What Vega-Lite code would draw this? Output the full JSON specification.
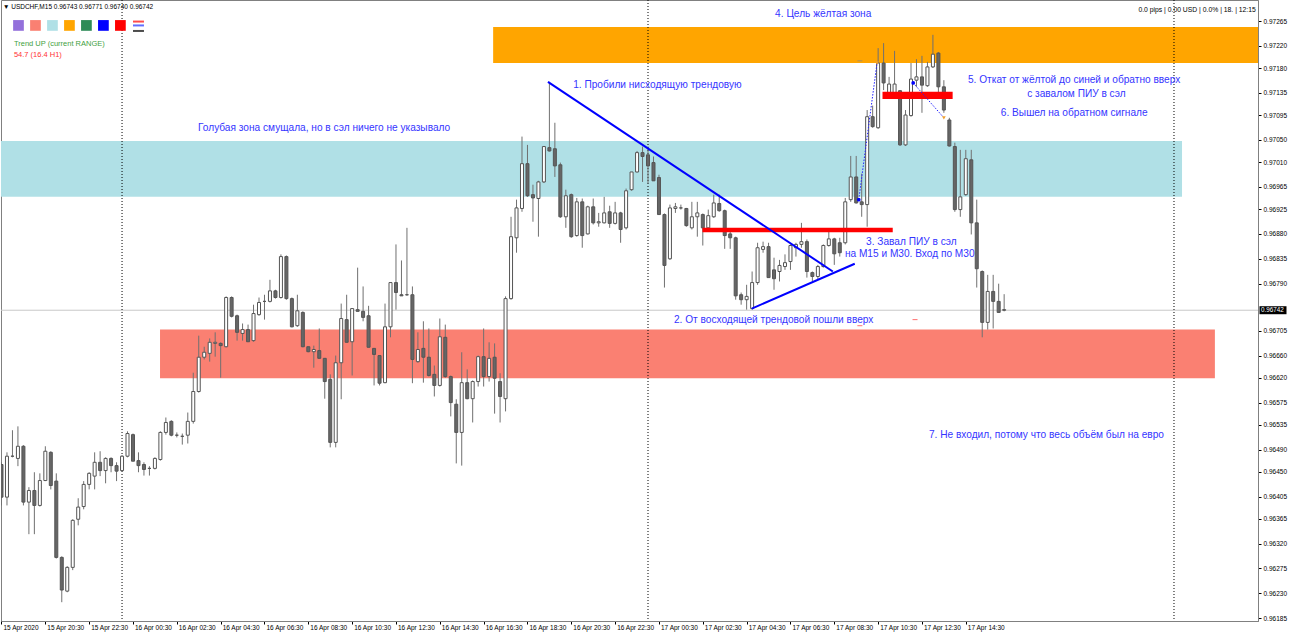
{
"$schema":"https://vega.github.io/schema/vega-lite/v6.json",
"width":1257,"height":621,"autosize":"none",
"padding":{"left":1,"top":0,"right":32,"bottom":16},
"background":"#ffffff",
"config":{"view":{"stroke":"#808080","strokeWidth":1},"axis":{"grid":false,"labelFont":"Liberation Sans","labelFontSize":6.5,"labelColor":"#000000","tickColor":"#000000","domainColor":"#808080"},"axisY":{"tickSize":3,"labelPadding":2,"labelBaseline":"middle","format":".5f"}},
"resolve":{"scale":{"color":"independent","shape":"independent"}},
"datasets":{
"candles":[
{"t":"2020-04-15T18:30Z","o":0.96463,"h":0.96467,"l":0.96389,"c":0.96404},
{"t":"2020-04-15T18:45Z","o":0.96404,"h":0.96485,"l":0.96389,"c":0.96478},
{"t":"2020-04-15T19:00Z","o":0.96478,"h":0.96525,"l":0.96476,"c":0.96478},
{"t":"2020-04-15T19:15Z","o":0.96474,"h":0.96532,"l":0.9646,"c":0.96496},
{"t":"2020-04-15T19:30Z","o":0.96496,"h":0.96498,"l":0.96389,"c":0.96395},
{"t":"2020-04-15T19:45Z","o":0.96395,"h":0.96422,"l":0.96337,"c":0.96416},
{"t":"2020-04-15T20:00Z","o":0.96416,"h":0.96449,"l":0.96337,"c":0.96389},
{"t":"2020-04-15T20:15Z","o":0.96389,"h":0.96447,"l":0.96387,"c":0.96434},
{"t":"2020-04-15T20:30Z","o":0.96434,"h":0.96496,"l":0.96433,"c":0.96487},
{"t":"2020-04-15T20:45Z","o":0.96485,"h":0.96487,"l":0.96418,"c":0.96425},
{"t":"2020-04-15T21:00Z","o":0.96433,"h":0.96447,"l":0.96293,"c":0.96295},
{"t":"2020-04-15T21:15Z","o":0.96295,"h":0.96297,"l":0.96214,"c":0.96236},
{"t":"2020-04-15T21:30Z","o":0.96234,"h":0.96279,"l":0.96232,"c":0.96277},
{"t":"2020-04-15T21:45Z","o":0.96277,"h":0.96364,"l":0.96272,"c":0.96362},
{"t":"2020-04-15T22:00Z","o":0.96364,"h":0.96402,"l":0.96353,"c":0.96386},
{"t":"2020-04-15T22:15Z","o":0.96387,"h":0.96433,"l":0.96382,"c":0.96427},
{"t":"2020-04-15T22:30Z","o":0.96427,"h":0.96449,"l":0.96418,"c":0.96447},
{"t":"2020-04-15T22:45Z","o":0.96442,"h":0.96485,"l":0.96418,"c":0.96467},
{"t":"2020-04-15T23:00Z","o":0.96467,"h":0.96487,"l":0.96442,"c":0.96452},
{"t":"2020-04-15T23:15Z","o":0.96452,"h":0.96476,"l":0.96429,"c":0.96474},
{"t":"2020-04-15T23:30Z","o":0.96474,"h":0.96476,"l":0.96449,"c":0.96461},
{"t":"2020-04-15T23:45Z","o":0.96461,"h":0.96467,"l":0.96433,"c":0.96451},
{"t":"2020-04-16T00:00Z","o":0.96452,"h":0.9648,"l":0.96451,"c":0.96478},
{"t":"2020-04-16T00:15Z","o":0.96478,"h":0.96523,"l":0.96476,"c":0.96519},
{"t":"2020-04-16T00:30Z","o":0.96517,"h":0.96519,"l":0.96469,"c":0.96469},
{"t":"2020-04-16T00:45Z","o":0.9647,"h":0.96485,"l":0.96449,"c":0.96461},
{"t":"2020-04-16T01:00Z","o":0.96463,"h":0.96467,"l":0.96443,"c":0.96454},
{"t":"2020-04-16T01:15Z","o":0.96456,"h":0.9646,"l":0.96443,"c":0.96456},
{"t":"2020-04-16T01:30Z","o":0.96456,"h":0.96476,"l":0.96454,"c":0.96474},
{"t":"2020-04-16T01:45Z","o":0.96472,"h":0.96523,"l":0.9647,"c":0.96521},
{"t":"2020-04-16T02:00Z","o":0.96521,"h":0.96548,"l":0.96517,"c":0.96539},
{"t":"2020-04-16T02:15Z","o":0.96541,"h":0.96543,"l":0.96514,"c":0.96516},
{"t":"2020-04-16T02:30Z","o":0.96516,"h":0.96521,"l":0.96512,"c":0.96516},
{"t":"2020-04-16T02:45Z","o":0.96514,"h":0.96519,"l":0.96499,"c":0.96514},
{"t":"2020-04-16T03:00Z","o":0.96516,"h":0.96557,"l":0.96501,"c":0.96541},
{"t":"2020-04-16T03:15Z","o":0.96541,"h":0.96629,"l":0.96537,"c":0.96595},
{"t":"2020-04-16T03:30Z","o":0.96595,"h":0.96696,"l":0.96593,"c":0.96657},
{"t":"2020-04-16T03:45Z","o":0.96657,"h":0.96676,"l":0.96653,"c":0.96666},
{"t":"2020-04-16T04:00Z","o":0.96664,"h":0.96691,"l":0.96649,"c":0.96684},
{"t":"2020-04-16T04:15Z","o":0.96682,"h":0.96702,"l":0.96658,"c":0.96684},
{"t":"2020-04-16T04:30Z","o":0.96682,"h":0.96684,"l":0.9662,"c":0.96678},
{"t":"2020-04-16T04:45Z","o":0.96676,"h":0.96767,"l":0.96675,"c":0.96765},
{"t":"2020-04-16T05:00Z","o":0.96765,"h":0.96767,"l":0.96729,"c":0.96731},
{"t":"2020-04-16T05:15Z","o":0.96732,"h":0.96734,"l":0.96687,"c":0.96702},
{"t":"2020-04-16T05:30Z","o":0.967,"h":0.96718,"l":0.96687,"c":0.96707},
{"t":"2020-04-16T05:45Z","o":0.96707,"h":0.96716,"l":0.96685,"c":0.96685},
{"t":"2020-04-16T06:00Z","o":0.96687,"h":0.96752,"l":0.96685,"c":0.96736},
{"t":"2020-04-16T06:15Z","o":0.96734,"h":0.96765,"l":0.96732,"c":0.96756},
{"t":"2020-04-16T06:30Z","o":0.96758,"h":0.9677,"l":0.96725,"c":0.96758},
{"t":"2020-04-16T06:45Z","o":0.96758,"h":0.96797,"l":0.96756,"c":0.96777},
{"t":"2020-04-16T07:00Z","o":0.96777,"h":0.96779,"l":0.96763,"c":0.96765},
{"t":"2020-04-16T07:15Z","o":0.96765,"h":0.96843,"l":0.96763,"c":0.96839},
{"t":"2020-04-16T07:30Z","o":0.96839,"h":0.96841,"l":0.96761,"c":0.96763},
{"t":"2020-04-16T07:45Z","o":0.96763,"h":0.96765,"l":0.96711,"c":0.96712},
{"t":"2020-04-16T08:00Z","o":0.96714,"h":0.9677,"l":0.96712,"c":0.96741},
{"t":"2020-04-16T08:15Z","o":0.96738,"h":0.9674,"l":0.96675,"c":0.96676},
{"t":"2020-04-16T08:30Z","o":0.96676,"h":0.96676,"l":0.96666,"c":0.96667},
{"t":"2020-04-16T08:45Z","o":0.96667,"h":0.96678,"l":0.96638,"c":0.96671},
{"t":"2020-04-16T09:00Z","o":0.96669,"h":0.96709,"l":0.96655,"c":0.96655},
{"t":"2020-04-16T09:15Z","o":0.96655,"h":0.96655,"l":0.96582,"c":0.96613},
{"t":"2020-04-16T09:30Z","o":0.96617,"h":0.96626,"l":0.96494,"c":0.96503},
{"t":"2020-04-16T09:45Z","o":0.96503,"h":0.9666,"l":0.96494,"c":0.96647},
{"t":"2020-04-16T10:00Z","o":0.96647,"h":0.96754,"l":0.96581,"c":0.96727},
{"t":"2020-04-16T10:15Z","o":0.96725,"h":0.9677,"l":0.96684,"c":0.96684},
{"t":"2020-04-16T10:30Z","o":0.96685,"h":0.96745,"l":0.96624,"c":0.96745},
{"t":"2020-04-16T10:45Z","o":0.96743,"h":0.96819,"l":0.9674,"c":0.9674},
{"t":"2020-04-16T11:00Z","o":0.9674,"h":0.96785,"l":0.96722,"c":0.96729},
{"t":"2020-04-16T11:15Z","o":0.96732,"h":0.9675,"l":0.96675,"c":0.96675},
{"t":"2020-04-16T11:30Z","o":0.96673,"h":0.96673,"l":0.96606,"c":0.96662},
{"t":"2020-04-16T11:45Z","o":0.9666,"h":0.9666,"l":0.96606,"c":0.9661},
{"t":"2020-04-16T12:00Z","o":0.96611,"h":0.96754,"l":0.9661,"c":0.96712},
{"t":"2020-04-16T12:15Z","o":0.96712,"h":0.96792,"l":0.96693,"c":0.96792},
{"t":"2020-04-16T12:30Z","o":0.96792,"h":0.96861,"l":0.96743,"c":0.96774},
{"t":"2020-04-16T12:45Z","o":0.9677,"h":0.96832,"l":0.96768,"c":0.96768},
{"t":"2020-04-16T13:00Z","o":0.9677,"h":0.96891,"l":0.96768,"c":0.9677},
{"t":"2020-04-16T13:15Z","o":0.9677,"h":0.96785,"l":0.9661,"c":0.96653},
{"t":"2020-04-16T13:30Z","o":0.96649,"h":0.96702,"l":0.96647,"c":0.96671},
{"t":"2020-04-16T13:45Z","o":0.96673,"h":0.96722,"l":0.96611,"c":0.96657},
{"t":"2020-04-16T14:00Z","o":0.96657,"h":0.96709,"l":0.96622,"c":0.96624},
{"t":"2020-04-16T14:15Z","o":0.96626,"h":0.96642,"l":0.96586,"c":0.96606},
{"t":"2020-04-16T14:30Z","o":0.96606,"h":0.96727,"l":0.96604,"c":0.96694},
{"t":"2020-04-16T14:45Z","o":0.96693,"h":0.96716,"l":0.9662,"c":0.96622},
{"t":"2020-04-16T15:00Z","o":0.96622,"h":0.96624,"l":0.9655,"c":0.96575},
{"t":"2020-04-16T15:15Z","o":0.96572,"h":0.96581,"l":0.96465,"c":0.96521},
{"t":"2020-04-16T15:30Z","o":0.96521,"h":0.96666,"l":0.96461,"c":0.96611},
{"t":"2020-04-16T15:45Z","o":0.96611,"h":0.96635,"l":0.96581,"c":0.96582},
{"t":"2020-04-16T16:00Z","o":0.96582,"h":0.96615,"l":0.96539,"c":0.96613},
{"t":"2020-04-16T16:15Z","o":0.96613,"h":0.9666,"l":0.96604,"c":0.96658},
{"t":"2020-04-16T16:30Z","o":0.96658,"h":0.96709,"l":0.96604,"c":0.96622},
{"t":"2020-04-16T16:45Z","o":0.96622,"h":0.96684,"l":0.96613,"c":0.96655},
{"t":"2020-04-16T17:00Z","o":0.96657,"h":0.96682,"l":0.96555,"c":0.96619},
{"t":"2020-04-16T17:15Z","o":0.96613,"h":0.96628,"l":0.96539,"c":0.96586},
{"t":"2020-04-16T17:30Z","o":0.96582,"h":0.96767,"l":0.96559,"c":0.96763},
{"t":"2020-04-16T17:45Z","o":0.96763,"h":0.96911,"l":0.96761,"c":0.96875},
{"t":"2020-04-16T18:00Z","o":0.96873,"h":0.96942,"l":0.96846,"c":0.96927},
{"t":"2020-04-16T18:15Z","o":0.96926,"h":0.97056,"l":0.9692,"c":0.97007},
{"t":"2020-04-16T18:30Z","o":0.97007,"h":0.97041,"l":0.96947,"c":0.96949},
{"t":"2020-04-16T18:45Z","o":0.96951,"h":0.96969,"l":0.96902,"c":0.96945},
{"t":"2020-04-16T19:00Z","o":0.96944,"h":0.96976,"l":0.96875,"c":0.96974},
{"t":"2020-04-16T19:15Z","o":0.96974,"h":0.97039,"l":0.96972,"c":0.97038},
{"t":"2020-04-16T19:30Z","o":0.97036,"h":0.97155,"l":0.97029,"c":0.9703},
{"t":"2020-04-16T19:45Z","o":0.97034,"h":0.97081,"l":0.96983,"c":0.97003},
{"t":"2020-04-16T20:00Z","o":0.97005,"h":0.97009,"l":0.96909,"c":0.96911},
{"t":"2020-04-16T20:15Z","o":0.96911,"h":0.9696,"l":0.96891,"c":0.96949},
{"t":"2020-04-16T20:30Z","o":0.96951,"h":0.96953,"l":0.96873,"c":0.96875},
{"t":"2020-04-16T20:45Z","o":0.96877,"h":0.96945,"l":0.96875,"c":0.96938},
{"t":"2020-04-16T21:00Z","o":0.96938,"h":0.96944,"l":0.96855,"c":0.96877},
{"t":"2020-04-16T21:15Z","o":0.9688,"h":0.96931,"l":0.96879,"c":0.96929},
{"t":"2020-04-16T21:30Z","o":0.96929,"h":0.96944,"l":0.96897,"c":0.969},
{"t":"2020-04-16T21:45Z","o":0.969,"h":0.96918,"l":0.96893,"c":0.96902},
{"t":"2020-04-16T22:00Z","o":0.969,"h":0.96947,"l":0.96899,"c":0.96918},
{"t":"2020-04-16T22:15Z","o":0.9692,"h":0.96931,"l":0.96891,"c":0.96899},
{"t":"2020-04-16T22:30Z","o":0.96899,"h":0.96938,"l":0.96897,"c":0.96918},
{"t":"2020-04-16T22:45Z","o":0.96918,"h":0.9692,"l":0.96864,"c":0.96888},
{"t":"2020-04-16T23:00Z","o":0.96891,"h":0.96962,"l":0.96888,"c":0.96958},
{"t":"2020-04-16T23:15Z","o":0.9696,"h":0.96992,"l":0.96958,"c":0.96992},
{"t":"2020-04-16T23:30Z","o":0.96992,"h":0.9703,"l":0.96991,"c":0.97027},
{"t":"2020-04-16T23:45Z","o":0.97027,"h":0.97038,"l":0.96974,"c":0.9702},
{"t":"2020-04-17T00:00Z","o":0.97023,"h":0.97038,"l":0.96972,"c":0.97003},
{"t":"2020-04-17T00:15Z","o":0.97009,"h":0.9702,"l":0.96976,"c":0.96976},
{"t":"2020-04-17T00:30Z","o":0.96982,"h":0.96987,"l":0.96915,"c":0.96915},
{"t":"2020-04-17T00:45Z","o":0.96915,"h":0.96917,"l":0.96783,"c":0.96823},
{"t":"2020-04-17T01:00Z","o":0.96835,"h":0.96933,"l":0.96833,"c":0.96927},
{"t":"2020-04-17T01:15Z","o":0.96926,"h":0.96936,"l":0.96918,"c":0.96929},
{"t":"2020-04-17T01:30Z","o":0.96927,"h":0.96933,"l":0.96924,"c":0.96927},
{"t":"2020-04-17T01:45Z","o":0.96926,"h":0.96927,"l":0.96893,"c":0.96895},
{"t":"2020-04-17T02:00Z","o":0.96891,"h":0.96938,"l":0.96888,"c":0.96911},
{"t":"2020-04-17T02:15Z","o":0.96911,"h":0.96938,"l":0.96875,"c":0.96918},
{"t":"2020-04-17T02:30Z","o":0.96915,"h":0.96917,"l":0.96859,"c":0.96891},
{"t":"2020-04-17T02:45Z","o":0.96891,"h":0.96924,"l":0.96888,"c":0.96913},
{"t":"2020-04-17T03:00Z","o":0.96911,"h":0.96951,"l":0.96909,"c":0.96936},
{"t":"2020-04-17T03:15Z","o":0.96935,"h":0.96951,"l":0.9692,"c":0.96922},
{"t":"2020-04-17T03:30Z","o":0.96922,"h":0.96924,"l":0.96853,"c":0.96877},
{"t":"2020-04-17T03:45Z","o":0.9688,"h":0.96888,"l":0.96853,"c":0.96873},
{"t":"2020-04-17T04:00Z","o":0.96873,"h":0.96875,"l":0.96761,"c":0.96768},
{"t":"2020-04-17T04:15Z","o":0.9677,"h":0.96774,"l":0.96752,"c":0.96761},
{"t":"2020-04-17T04:30Z","o":0.96761,"h":0.96788,"l":0.96743,"c":0.96767},
{"t":"2020-04-17T04:45Z","o":0.96745,"h":0.96812,"l":0.96743,"c":0.96792},
{"t":"2020-04-17T05:00Z","o":0.96792,"h":0.96864,"l":0.96788,"c":0.96855},
{"t":"2020-04-17T05:15Z","o":0.96852,"h":0.96866,"l":0.96846,"c":0.96857},
{"t":"2020-04-17T05:30Z","o":0.96857,"h":0.96864,"l":0.96801,"c":0.96801},
{"t":"2020-04-17T05:45Z","o":0.96815,"h":0.96837,"l":0.96779,"c":0.96799},
{"t":"2020-04-17T06:00Z","o":0.96812,"h":0.96833,"l":0.96794,"c":0.96823},
{"t":"2020-04-17T06:15Z","o":0.96821,"h":0.96843,"l":0.96815,"c":0.96828},
{"t":"2020-04-17T06:30Z","o":0.9683,"h":0.96861,"l":0.96815,"c":0.96859},
{"t":"2020-04-17T06:45Z","o":0.96855,"h":0.96864,"l":0.96839,"c":0.96861},
{"t":"2020-04-17T07:00Z","o":0.96861,"h":0.969,"l":0.96855,"c":0.96866},
{"t":"2020-04-17T07:15Z","o":0.96866,"h":0.9687,"l":0.96801,"c":0.96812},
{"t":"2020-04-17T07:30Z","o":0.9681,"h":0.96812,"l":0.96794,"c":0.96803},
{"t":"2020-04-17T07:45Z","o":0.96803,"h":0.96824,"l":0.96797,"c":0.96821},
{"t":"2020-04-17T08:00Z","o":0.96821,"h":0.96861,"l":0.96819,"c":0.96859},
{"t":"2020-04-17T08:15Z","o":0.96859,"h":0.96888,"l":0.96857,"c":0.96871},
{"t":"2020-04-17T08:30Z","o":0.96871,"h":0.96873,"l":0.96824,"c":0.96844},
{"t":"2020-04-17T08:45Z","o":0.96864,"h":0.96873,"l":0.96839,"c":0.96846},
{"t":"2020-04-17T09:00Z","o":0.96864,"h":0.96945,"l":0.96861,"c":0.96938},
{"t":"2020-04-17T09:15Z","o":0.96942,"h":0.97021,"l":0.96938,"c":0.96983},
{"t":"2020-04-17T09:30Z","o":0.96983,"h":0.97021,"l":0.96935,"c":0.96936},
{"t":"2020-04-17T09:45Z","o":0.96938,"h":0.96989,"l":0.96911,"c":0.96933},
{"t":"2020-04-17T10:00Z","o":0.96933,"h":0.97104,"l":0.96893,"c":0.97092},
{"t":"2020-04-17T10:15Z","o":0.97092,"h":0.97112,"l":0.97072,"c":0.97074},
{"t":"2020-04-17T10:30Z","o":0.97072,"h":0.97216,"l":0.9707,"c":0.97189},
{"t":"2020-04-17T10:45Z","o":0.97189,"h":0.97225,"l":0.9714,"c":0.97153},
{"t":"2020-04-17T11:00Z","o":0.97135,"h":0.97164,"l":0.97131,"c":0.97151},
{"t":"2020-04-17T11:15Z","o":0.97135,"h":0.97211,"l":0.97133,"c":0.97151},
{"t":"2020-04-17T11:30Z","o":0.97139,"h":0.9714,"l":0.97039,"c":0.97041},
{"t":"2020-04-17T11:45Z","o":0.97041,"h":0.97104,"l":0.97039,"c":0.97095},
{"t":"2020-04-17T12:00Z","o":0.97094,"h":0.97189,"l":0.97092,"c":0.9716},
{"t":"2020-04-17T12:15Z","o":0.97158,"h":0.97196,"l":0.97146,"c":0.97164},
{"t":"2020-04-17T12:30Z","o":0.97164,"h":0.97202,"l":0.97099,"c":0.97149},
{"t":"2020-04-17T12:45Z","o":0.97148,"h":0.97191,"l":0.97146,"c":0.97182},
{"t":"2020-04-17T13:00Z","o":0.97182,"h":0.9724,"l":0.9718,"c":0.97205},
{"t":"2020-04-17T13:15Z","o":0.97207,"h":0.97209,"l":0.97135,"c":0.97146},
{"t":"2020-04-17T13:30Z","o":0.97146,"h":0.97158,"l":0.97099,"c":0.97104},
{"t":"2020-04-17T13:45Z","o":0.97086,"h":0.9709,"l":0.97038,"c":0.97039},
{"t":"2020-04-17T14:00Z","o":0.97038,"h":0.97045,"l":0.9692,"c":0.96924},
{"t":"2020-04-17T14:15Z","o":0.96924,"h":0.97032,"l":0.96911,"c":0.96947},
{"t":"2020-04-17T14:30Z","o":0.96951,"h":0.97032,"l":0.96949,"c":0.97016},
{"t":"2020-04-17T14:45Z","o":0.97014,"h":0.97032,"l":0.96879,"c":0.969},
{"t":"2020-04-17T15:00Z","o":0.969,"h":0.96942,"l":0.96783,"c":0.96817},
{"t":"2020-04-17T15:15Z","o":0.96812,"h":0.96814,"l":0.96693,"c":0.9672},
{"t":"2020-04-17T15:30Z","o":0.9672,"h":0.96806,"l":0.96707,"c":0.96776},
{"t":"2020-04-17T15:45Z","o":0.96776,"h":0.96806,"l":0.96709,"c":0.96758},
{"t":"2020-04-17T16:00Z","o":0.96758,"h":0.9679,"l":0.96738,"c":0.96738},
{"t":"2020-04-17T16:15Z","o":0.96743,"h":0.96771,"l":0.9674,"c":0.96742}
],
"zones":[
{"zone":"blue","t":"2020-04-15T17:00Z","t2":"2020-04-18T00:22Z","p1":0.96947,"p2":0.97048},
{"zone":"salmon","t":"2020-04-16T01:44Z","t2":"2020-04-18T01:52Z","p1":0.96619,"p2":0.96707},
{"zone":"orange","t":"2020-04-16T16:56Z","t2":"2020-04-18T06:00Z","p1":0.97189,"p2":0.97254}
],
"pins":[
{"t":"2020-04-17T02:29Z","t2":"2020-04-17T11:10Z","p1":0.96883,"p2":0.96891},
{"t":"2020-04-17T10:42Z","t2":"2020-04-17T13:54Z","p1":0.97124,"p2":0.97137}
],
"priceline":[{"t":"2020-04-15T17:00Z","t2":"2020-04-18T06:00Z","p":0.96742}],
"seps":[{"t":"2020-04-16T00:00Z"},{"t":"2020-04-17T00:00Z"},{"t":"2020-04-18T00:00Z"}],
"trend":[
{"id":"down","t":"2020-04-16T19:26Z","p":0.97155},{"id":"down","t":"2020-04-17T08:26Z","p":0.96812},
{"id":"up","t":"2020-04-17T04:44Z","p":0.96745},{"id":"up","t":"2020-04-17T09:26Z","p":0.96826}
],
"trades":[
{"id":"buy","t":"2020-04-17T09:37Z","p":0.96942},{"id":"buy","t":"2020-04-17T10:27Z","p":0.97189},
{"id":"sell","t":"2020-04-17T12:06Z","p":0.97153},{"id":"sell","t":"2020-04-17T13:30Z","p":0.9709}
],
"ends":[
{"kind":"open","t":"2020-04-17T09:37Z","p":0.96942},{"kind":"close","t":"2020-04-17T10:27Z","p":0.97189},
{"kind":"open","t":"2020-04-17T12:06Z","p":0.97153},{"kind":"close","t":"2020-04-17T13:30Z","p":0.9709}
],
"dashes":[
{"kind":"gray","t":"2020-04-17T09:40Z","p":0.97193},
{"kind":"red","t":"2020-04-17T09:40Z","p":0.96714},
{"kind":"red","t":"2020-04-17T12:11Z","p":0.96725}
],
"notes":[
{"t":"2020-04-16T20:35Z","p":0.97149,"text":"1. Пробили нисходящую трендовую"},
{"t":"2020-04-16T03:28Z","p":0.97072,"text":"Голубая зона смущала, но в сэл ничего не указывало"},
{"t":"2020-04-17T05:48Z","p":0.97278,"text":"4. Цель жёлтая зона"},
{"t":"2020-04-17T14:36Z","p":0.97159,"text":"5. Откат от жёлтой до синей и обратно вверх"},
{"t":"2020-04-17T17:18Z","p":0.97133,"text":"с завалом ПИУ в сэл"},
{"t":"2020-04-17T16:06Z","p":0.97099,"text":"6. Вышел на обратном сигнале"},
{"t":"2020-04-17T09:57Z","p":0.96866,"text":"3. Завал ПИУ в сэл"},
{"t":"2020-04-17T08:59Z","p":0.96844,"text":"на М15 и М30. Вход по М30"},
{"t":"2020-04-17T01:11Z","p":0.96725,"text":"2. От восходящей трендовой пошли вверх"},
{"t":"2020-04-17T12:49Z","p":0.96516,"text":"7. Не входил, потому что весь объём был на евро"}
],
"header":[{"t":"2020-04-15T18:34Z","p":0.97291,"text":"▼ USDCHF,M15  0.96743 0.96771 0.96740 0.96742"}],
"status":[{"t":"2020-04-18T03:44Z","p":0.97285,"text":"0.0 pips | 0.00 USD | 0.0% | 18. | 12:15"}],
"info":[
{"kind":"trend","t":"2020-04-15T19:04Z","p":0.97224,"text":"Trend UP (current RANGE)"},
{"kind":"range","t":"2020-04-15T19:04Z","p":0.97204,"text":"54.7 (16.4 H1)"}
],
"swatches":[
{"name":"purple","t":"2020-04-15T19:16:30Z","p":0.97257},
{"name":"salmon","t":"2020-04-15T20:03:00Z","p":0.97257},
{"name":"powder","t":"2020-04-15T20:49:30Z","p":0.97257},
{"name":"orange","t":"2020-04-15T21:36:00Z","p":0.97257},
{"name":"green","t":"2020-04-15T22:22:30Z","p":0.97257},
{"name":"blue","t":"2020-04-15T23:09:00Z","p":0.97257},
{"name":"red","t":"2020-04-15T23:55:30Z","p":0.97257}
],
"icon":[
{"kind":"a","t":"2020-04-16T00:45Z","p":0.97264},
{"kind":"b","t":"2020-04-16T00:45Z","p":0.97257},
{"kind":"c","t":"2020-04-16T00:45Z","p":0.97247}
],
"last":[{"t":"2020-04-18T03:50Z","p":0.96742,"text":"0.96742"}]
},
"encoding":{"x":{"field":"t","type":"temporal","title":null,
 "scale":{"type":"utc","padding":0,"domain":[{"year":2020,"month":4,"date":15,"hours":18,"minutes":28,"seconds":38,"utc":true},{"year":2020,"month":4,"date":18,"hours":3,"minutes":50,"utc":true}]},
 "axis":{"values":[
 {"year":2020,"month":4,"date":15,"hours":18,"minutes":30,"utc":true},
 {"year":2020,"month":4,"date":15,"hours":20,"minutes":30,"utc":true},
 {"year":2020,"month":4,"date":15,"hours":22,"minutes":30,"utc":true},
 {"year":2020,"month":4,"date":16,"hours":0,"minutes":30,"utc":true},
 {"year":2020,"month":4,"date":16,"hours":2,"minutes":30,"utc":true},
 {"year":2020,"month":4,"date":16,"hours":4,"minutes":30,"utc":true},
 {"year":2020,"month":4,"date":16,"hours":6,"minutes":30,"utc":true},
 {"year":2020,"month":4,"date":16,"hours":8,"minutes":30,"utc":true},
 {"year":2020,"month":4,"date":16,"hours":10,"minutes":30,"utc":true},
 {"year":2020,"month":4,"date":16,"hours":12,"minutes":30,"utc":true},
 {"year":2020,"month":4,"date":16,"hours":14,"minutes":30,"utc":true},
 {"year":2020,"month":4,"date":16,"hours":16,"minutes":30,"utc":true},
 {"year":2020,"month":4,"date":16,"hours":18,"minutes":30,"utc":true},
 {"year":2020,"month":4,"date":16,"hours":20,"minutes":30,"utc":true},
 {"year":2020,"month":4,"date":16,"hours":22,"minutes":30,"utc":true},
 {"year":2020,"month":4,"date":17,"hours":0,"minutes":30,"utc":true},
 {"year":2020,"month":4,"date":17,"hours":2,"minutes":30,"utc":true},
 {"year":2020,"month":4,"date":17,"hours":4,"minutes":30,"utc":true},
 {"year":2020,"month":4,"date":17,"hours":6,"minutes":30,"utc":true},
 {"year":2020,"month":4,"date":17,"hours":8,"minutes":30,"utc":true},
 {"year":2020,"month":4,"date":17,"hours":10,"minutes":30,"utc":true},
 {"year":2020,"month":4,"date":17,"hours":12,"minutes":30,"utc":true},
 {"year":2020,"month":4,"date":17,"hours":14,"minutes":30,"utc":true}],
 "labelExpr":"datum.value < 1586980000000 ? '15 Apr 2020' : utcFormat(datum.value, '%d %b %H:%M')",
 "labelAlign":"left","labelBaseline":"top","labelPadding":0,"labelOffset":1.5,"tickSize":3,"domainColor":"#808080"}}},
"layer":[
{"data":{"name":"zones","format":{"parse":{"t2":"date"}}},"mark":{"type":"rect","clip":true},
 "encoding":{"x2":{"field":"t2"},
 "y":{"field":"p1","type":"quantitative","title":null,"scale":{"domain":[0.9618,0.97303],"zero":false,"nice":false,"padding":0},
  "axis":{"orient":"right","values":[0.97265,0.9722,0.9718,0.97135,0.97095,0.9705,0.9701,0.96965,0.96925,0.9688,0.96835,0.9679,0.96705,0.9666,0.9662,0.96575,0.96535,0.9649,0.9645,0.96405,0.96365,0.9632,0.96275,0.9623,0.96185]}},
 "y2":{"field":"p2"},
 "color":{"field":"zone","type":"nominal","scale":{"domain":["blue","salmon","orange"],"range":["#b0e0e6","#fa8072","#ffa500"]},"legend":null}}},
{"data":{"name":"priceline","format":{"parse":{"t2":"date"}}},"mark":{"type":"rule","color":"#c8c8c8","strokeWidth":1,"clip":true},
 "encoding":{"x2":{"field":"t2"},"y":{"field":"p","type":"quantitative","title":null,"scale":{"domain":[0.9618,0.97303],"zero":false,"nice":false,"padding":0},
  "axis":{"orient":"right","values":[0.97265,0.9722,0.9718,0.97135,0.97095,0.9705,0.9701,0.96965,0.96925,0.9688,0.96835,0.9679,0.96705,0.9666,0.9662,0.96575,0.96535,0.9649,0.9645,0.96405,0.96365,0.9632,0.96275,0.9623,0.96185]}}}},
{"data":{"name":"seps"},"mark":{"type":"rule","color":"#000000","strokeWidth":1,"strokeDash":[1,2]},"encoding":{}},
{"data":{"name":"candles"},"mark":{"type":"rule","color":"#707070","strokeWidth":1,"clip":true},
 "encoding":{"y":{"field":"l","type":"quantitative","title":null,"scale":{"domain":[0.9618,0.97303],"zero":false,"nice":false,"padding":0},
  "axis":{"orient":"right","values":[0.97265,0.9722,0.9718,0.97135,0.97095,0.9705,0.9701,0.96965,0.96925,0.9688,0.96835,0.9679,0.96705,0.9666,0.9662,0.96575,0.96535,0.9649,0.9645,0.96405,0.96365,0.9632,0.96275,0.9623,0.96185]}},"y2":{"field":"h"}}},
{"data":{"name":"candles"},"mark":{"type":"bar","size":3,"strokeWidth":1,"stroke":"#555555","clip":true},
 "encoding":{"y":{"field":"o","type":"quantitative","title":null,"scale":{"domain":[0.9618,0.97303],"zero":false,"nice":false,"padding":0},
  "axis":{"orient":"right","values":[0.97265,0.9722,0.9718,0.97135,0.97095,0.9705,0.9701,0.96965,0.96925,0.9688,0.96835,0.9679,0.96705,0.9666,0.9662,0.96575,0.96535,0.9649,0.9645,0.96405,0.96365,0.9632,0.96275,0.9623,0.96185]}},"y2":{"field":"c"},
 "fill":{"condition":{"test":"datum.c >= datum.o","value":"#ffffff"},"value":"#666666"}}},
{"data":{"name":"pins","format":{"parse":{"t2":"date"}}},"mark":{"type":"rect","color":"#ff0000"},
 "encoding":{"x2":{"field":"t2"},"y":{"field":"p1","type":"quantitative","title":null,"scale":{"domain":[0.9618,0.97303],"zero":false,"nice":false,"padding":0},
  "axis":{"orient":"right","values":[0.97265,0.9722,0.9718,0.97135,0.97095,0.9705,0.9701,0.96965,0.96925,0.9688,0.96835,0.9679,0.96705,0.9666,0.9662,0.96575,0.96535,0.9649,0.9645,0.96405,0.96365,0.9632,0.96275,0.9623,0.96185]}},"y2":{"field":"p2"}}},
{"data":{"name":"trend"},"mark":{"type":"line","color":"#0000ff","strokeWidth":2},
 "encoding":{"y":{"field":"p","type":"quantitative","title":null,"scale":{"domain":[0.9618,0.97303],"zero":false,"nice":false,"padding":0},
  "axis":{"orient":"right","values":[0.97265,0.9722,0.9718,0.97135,0.97095,0.9705,0.9701,0.96965,0.96925,0.9688,0.96835,0.9679,0.96705,0.9666,0.9662,0.96575,0.96535,0.9649,0.9645,0.96405,0.96365,0.9632,0.96275,0.9623,0.96185]}},"detail":{"field":"id","type":"nominal"}}},
{"data":{"name":"trades"},"mark":{"type":"line","color":"#2020ff","strokeWidth":1,"strokeDash":[1.5,1.5]},
 "encoding":{"y":{"field":"p","type":"quantitative","title":null,"scale":{"domain":[0.9618,0.97303],"zero":false,"nice":false,"padding":0},
  "axis":{"orient":"right","values":[0.97265,0.9722,0.9718,0.97135,0.97095,0.9705,0.9701,0.96965,0.96925,0.9688,0.96835,0.9679,0.96705,0.9666,0.9662,0.96575,0.96535,0.9649,0.9645,0.96405,0.96365,0.9632,0.96275,0.9623,0.96185]}},"detail":{"field":"id","type":"nominal"}}},
{"data":{"name":"ends"},"mark":{"type":"point","filled":true,"size":14,"opacity":1},
 "encoding":{"y":{"field":"p","type":"quantitative","title":null,"scale":{"domain":[0.9618,0.97303],"zero":false,"nice":false,"padding":0},
  "axis":{"orient":"right","values":[0.97265,0.9722,0.9718,0.97135,0.97095,0.9705,0.9701,0.96965,0.96925,0.9688,0.96835,0.9679,0.96705,0.9666,0.9662,0.96575,0.96535,0.9649,0.9645,0.96405,0.96365,0.9632,0.96275,0.9623,0.96185]}},
 "color":{"field":"kind","type":"nominal","scale":{"domain":["open","close"],"range":["#0000ff","#f0a030"]},"legend":null},
 "shape":{"field":"kind","type":"nominal","scale":{"domain":["open","close"],"range":["circle","triangle-down"]},"legend":null}}},
{"data":{"name":"dashes"},"mark":{"type":"tick","orient":"horizontal","size":5,"thickness":1},
 "encoding":{"y":{"field":"p","type":"quantitative","title":null,"scale":{"domain":[0.9618,0.97303],"zero":false,"nice":false,"padding":0},
  "axis":{"orient":"right","values":[0.97265,0.9722,0.9718,0.97135,0.97095,0.9705,0.9701,0.96965,0.96925,0.9688,0.96835,0.9679,0.96705,0.9666,0.9662,0.96575,0.96535,0.9649,0.9645,0.96405,0.96365,0.9632,0.96275,0.9623,0.96185]}},
 "color":{"field":"kind","type":"nominal","scale":{"domain":["gray","red"],"range":["#888888","#ff3030"]},"legend":null}}},
{"data":{"name":"notes"},"mark":{"type":"text","align":"left","baseline":"middle","font":"Liberation Sans","fontSize":10.15,"color":"#3535ff"},
 "encoding":{"y":{"field":"p","type":"quantitative","title":null,"scale":{"domain":[0.9618,0.97303],"zero":false,"nice":false,"padding":0},
  "axis":{"orient":"right","values":[0.97265,0.9722,0.9718,0.97135,0.97095,0.9705,0.9701,0.96965,0.96925,0.9688,0.96835,0.9679,0.96705,0.9666,0.9662,0.96575,0.96535,0.9649,0.9645,0.96405,0.96365,0.9632,0.96275,0.9623,0.96185]}},"text":{"field":"text"}}},
{"data":{"name":"header"},"mark":{"type":"text","align":"left","baseline":"middle","font":"Liberation Sans","fontSize":6.5,"color":"#000000"},
 "encoding":{"y":{"field":"p","type":"quantitative","title":null,"scale":{"domain":[0.9618,0.97303],"zero":false,"nice":false,"padding":0},
  "axis":{"orient":"right","values":[0.97265,0.9722,0.9718,0.97135,0.97095,0.9705,0.9701,0.96965,0.96925,0.9688,0.96835,0.9679,0.96705,0.9666,0.9662,0.96575,0.96535,0.9649,0.9645,0.96405,0.96365,0.9632,0.96275,0.9623,0.96185]}},"text":{"field":"text"}}},
{"data":{"name":"status"},"mark":{"type":"text","align":"right","baseline":"middle","font":"Liberation Sans","fontSize":6.8,"color":"#000000"},
 "encoding":{"y":{"field":"p","type":"quantitative","title":null,"scale":{"domain":[0.9618,0.97303],"zero":false,"nice":false,"padding":0},
  "axis":{"orient":"right","values":[0.97265,0.9722,0.9718,0.97135,0.97095,0.9705,0.9701,0.96965,0.96925,0.9688,0.96835,0.9679,0.96705,0.9666,0.9662,0.96575,0.96535,0.9649,0.9645,0.96405,0.96365,0.9632,0.96275,0.9623,0.96185]}},"text":{"field":"text"}}},
{"data":{"name":"info"},"mark":{"type":"text","align":"left","baseline":"middle","font":"Liberation Sans","fontSize":7.5},
 "encoding":{"y":{"field":"p","type":"quantitative","title":null,"scale":{"domain":[0.9618,0.97303],"zero":false,"nice":false,"padding":0},
  "axis":{"orient":"right","values":[0.97265,0.9722,0.9718,0.97135,0.97095,0.9705,0.9701,0.96965,0.96925,0.9688,0.96835,0.9679,0.96705,0.9666,0.9662,0.96575,0.96535,0.9649,0.9645,0.96405,0.96365,0.9632,0.96275,0.9623,0.96185]}},"text":{"field":"text"},
 "color":{"field":"kind","type":"nominal","scale":{"domain":["trend","range"],"range":["#3f9f3f","#ff3333"]},"legend":null}}},
{"data":{"name":"swatches"},"mark":{"type":"point","shape":"square","filled":true,"size":115,"opacity":1},
 "encoding":{"y":{"field":"p","type":"quantitative","title":null,"scale":{"domain":[0.9618,0.97303],"zero":false,"nice":false,"padding":0},
  "axis":{"orient":"right","values":[0.97265,0.9722,0.9718,0.97135,0.97095,0.9705,0.9701,0.96965,0.96925,0.9688,0.96835,0.9679,0.96705,0.9666,0.9662,0.96575,0.96535,0.9649,0.9645,0.96405,0.96365,0.9632,0.96275,0.9623,0.96185]}},
 "color":{"field":"name","type":"nominal","scale":{"domain":["purple","salmon","powder","orange","green","blue","red"],"range":["#9370db","#fa8072","#b0e0e6","#ffa500","#2e8b57","#0000ff","#ff0000"]},"legend":null}}},
{"data":{"name":"icon"},"mark":{"type":"tick","orient":"horizontal","size":11,"thickness":2},
 "encoding":{"y":{"field":"p","type":"quantitative","title":null,"scale":{"domain":[0.9618,0.97303],"zero":false,"nice":false,"padding":0},
  "axis":{"orient":"right","values":[0.97265,0.9722,0.9718,0.97135,0.97095,0.9705,0.9701,0.96965,0.96925,0.9688,0.96835,0.9679,0.96705,0.9666,0.9662,0.96575,0.96535,0.9649,0.9645,0.96405,0.96365,0.9632,0.96275,0.9623,0.96185]}},
 "color":{"field":"kind","type":"nominal","scale":{"domain":["a","b","c"],"range":["#ff0000","#2030ff","#000000"]},"legend":null}}},
{"data":{"name":"last"},"mark":{"type":"tick","orient":"horizontal","size":27,"thickness":8,"color":"#000000","xOffset":15,"opacity":1},
 "encoding":{"y":{"field":"p","type":"quantitative","title":null,"scale":{"domain":[0.9618,0.97303],"zero":false,"nice":false,"padding":0},
  "axis":{"orient":"right","values":[0.97265,0.9722,0.9718,0.97135,0.97095,0.9705,0.9701,0.96965,0.96925,0.9688,0.96835,0.9679,0.96705,0.9666,0.9662,0.96575,0.96535,0.9649,0.9645,0.96405,0.96365,0.9632,0.96275,0.9623,0.96185]}}}},
{"data":{"name":"last"},"mark":{"type":"text","align":"left","baseline":"middle","font":"Liberation Sans","fontSize":6.3,"color":"#ffffff","dx":3},
 "encoding":{"y":{"field":"p","type":"quantitative","title":null,"scale":{"domain":[0.9618,0.97303],"zero":false,"nice":false,"padding":0},
  "axis":{"orient":"right","values":[0.97265,0.9722,0.9718,0.97135,0.97095,0.9705,0.9701,0.96965,0.96925,0.9688,0.96835,0.9679,0.96705,0.9666,0.9662,0.96575,0.96535,0.9649,0.9645,0.96405,0.96365,0.9632,0.96275,0.9623,0.96185]}},"text":{"field":"text"}}}
]
}
